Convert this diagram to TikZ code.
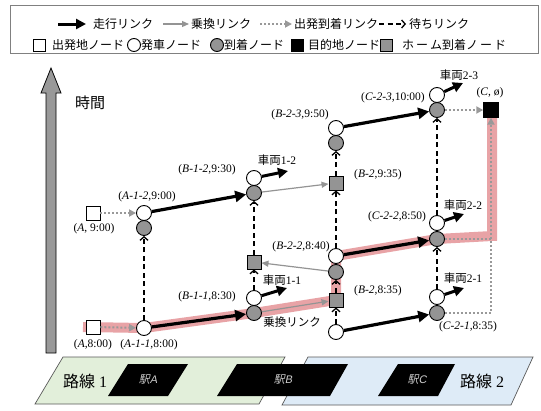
\documentclass[tikz,border=0pt]{standalone}
\usepackage{fontspec}
\setmainfont{Liberation Serif}
\newfontfamily\jp{Noto Sans CJK JP}
\newfontfamily\jpsl[FakeSlant=0.2]{Noto Sans CJK JP}
\newfontfamily\sfsl[FakeSlant=0.2]{Liberation Sans}
\usetikzlibrary{arrows.meta}
\definecolor{pinkc}{HTML}{E8A3A6}
\definecolor{greenc}{HTML}{E2EFDA}
\definecolor{bluec}{HTML}{DEEBF7}
\pgfdeclarelayer{bg}
\pgfsetlayers{bg,main}
\begin{document}
\begin{tikzpicture}[x=1pt,y=-1pt,
  lbl/.style={font=\fontsize{11.5}{13}\selectfont, inner sep=0pt},
  jl/.style={font=\jp\fontsize{12}{14}\selectfont, inner sep=0pt, anchor=west},
  dep/.style={circle,draw,line width=0.9pt,fill=white,minimum size=15pt,inner sep=0pt},
  arv/.style={circle,draw,line width=0.9pt,fill=black!42,minimum size=15pt,inner sep=0pt},
  plat/.style={rectangle,draw,line width=0.9pt,fill=black!42,minimum size=14pt,inner sep=0pt},
  orig/.style={rectangle,draw,line width=0.9pt,fill=white,minimum size=14pt,inner sep=0pt},
  dstsq/.style={rectangle,fill=black,draw,minimum size=15pt,inner sep=0pt},
  run/.style={line width=3.2pt,-{Triangle[length=11pt,width=11pt]}},
  vrun/.style={line width=3pt,-{Triangle[length=10pt,width=10pt]}},
  xfer/.style={draw=black!42,line width=1.2pt,-{Triangle[length=7pt,width=6pt]}},
  waitl/.style={line width=1.3pt,dash pattern=on 5pt off 3.5pt,-{Straight Barb[length=3.5pt,width=8pt]}},
  odl/.style={draw=black!40,line width=2pt,dash pattern=on 2pt off 2pt,-{Triangle[length=7pt,width=7pt]}},
  odn/.style={draw=black!40,line width=2pt,dash pattern=on 2pt off 2pt},
  hl/.style={draw=pinkc,line width=10pt,line join=miter},
  station/.style={fill=black},
  stlbl/.style={font=\jpsl\fontsize{11}{13}\selectfont, text=black!20, inner sep=0pt},
  route/.style={draw=black!65,line width=0.7pt}
]
\useasboundingbox (0,0) rectangle (541,410);

% ---------- legend ----------
\draw[draw=black!50,line width=0.8pt] (10,5) rectangle (538,53);
\coordinate (l1a) at (58,24); \coordinate (l1b) at (86,24);
\coordinate (l2a) at (163,24); \coordinate (l2b) at (189,24);
\coordinate (l3a) at (260,24); \coordinate (l3b) at (292,24);
\coordinate (l4a) at (379,24); \coordinate (l4b) at (406,24);
\draw[vrun] (l1a) -- (l1b);
\draw[xfer] (l2a) -- (l2b);
\draw[odl] (l3a) -- (l3b);
\draw[waitl] (l4a) -- (l4b);
\node[jl] (t1) at (93,24) {走行リンク};
\node[jl] (t2) at (191,24) {乗換リンク};
\node[jl] (t3) at (294,24) {出発到着リンク};
\node[jl] (t4) at (409,24) {待ちリンク};
\node[orig,minimum size=12pt] (g1) at (39,45) {};
\node[dep,minimum size=13pt] (g2) at (134,45) {};
\node[arv,minimum size=13pt] (g3) at (217,45) {};
\node[dstsq,minimum size=12pt] (g4) at (297,45) {};
\node[plat,minimum size=12pt] (g5) at (386,45) {};
\node[jl] (u1) at (52,45) {出発地ノード};
\node[jl] (u2) at (141,45) {発車ノード};
\node[jl] (u3) at (224,45) {到着ノード};
\node[jl] (u4) at (308,45) {目的地ノード};
\node[jl] (u5) at (402,45) {ホ\,ー\,ム到着ノ\,ー\,ド};

% ---------- time axis ----------
\draw[fill=black!40,line width=0.8pt] (46,353) -- (46,93) -- (41,93) -- (51,68) -- (61,93) -- (56,93) -- (56,353) -- cycle;
\node[font=\jp\fontsize{15}{17}\selectfont,inner sep=0pt] (time) at (90,103) {時間};

% ---------- nodes ----------
\node[orig] (oA8) at (93,327) {};
\node[orig] (oA9) at (93,213) {};
\node[dep] (a11) at (144,328) {};
\node[dep] (a12d) at (144,213) {};
\node[arv] (a12a) at (144,228) {};
\node[dep] (b11d) at (254,298) {};
\node[arv] (b11a) at (254,313) {};
\node[plat] (b1p) at (254,262) {};
\node[dep] (b12d) at (254,178) {};
\node[arv] (b12a) at (254,193) {};
\node[dep] (b21d) at (336,332) {};
\node[plat] (b2p1) at (336,300) {};
\node[arv] (b22a) at (336,272) {};
\node[dep] (b22d) at (336,256) {};
\node[plat] (b2p2) at (336,183) {};
\node[arv] (b23a) at (336,143) {};
\node[dep] (b23d) at (336,128) {};
\node[dep] (c21d) at (437,297) {};
\node[arv] (c21a) at (437,313) {};
\node[dep] (c22d) at (437,223) {};
\node[arv] (c22a) at (437,239) {};
\node[dep] (c23d) at (437,95) {};
\node[arv] (c23a) at (437,110) {};
\node[dstsq] (dest) at (491,110) {};

% ---------- highlight ----------
\begin{pgfonlayer}{bg}
\coordinate (h0) at (83,327);
\coordinate (h1) at (492,236);
\coordinate (h2) at (492,117);
\draw[hl] (h0) -- (a11.center) -- (b11a.center) -- (b2p1.center) -- (b22d.center) -- (c22a.center) -- (h1) -- (h2);
\end{pgfonlayer}

% ---------- wait links ----------
\draw[waitl] (a11) -- (a12a);
\draw[waitl] (b11d) -- (b1p);
\draw[waitl] (b1p) -- (b12a);
\draw[waitl] (b21d) -- (b2p1);
\draw[waitl] (b2p1) -- (b22a);
\draw[waitl] (b22d) -- (b2p2);
\draw[waitl] (b2p2) -- (b23a);
\draw[waitl] (c21d) -- (c22a);
\draw[waitl] (c22d) -- (c23a);

% ---------- origin/destination links ----------
\draw[odl] (oA8) -- (a11);
\draw[odl] (oA9) -- (a12d);
\draw[odl] (c23a) -- (dest);
\draw[odl] (c21a) -| (dest);
\draw[odn] (c22a) -- (c22a -| dest);

% ---------- transfer links ----------
\draw[xfer] (b11a) -- (b2p1);
\draw[xfer] (b12a) -- (b2p2);
\draw[xfer] (b22a) -- (b1p);

% ---------- running links ----------
\draw[run] (a11) -- (b11a);
\draw[run] (a12d) -- (b12a);
\draw[run] (b21d) -- (c21a);
\draw[run] (b22d) -- (c22a);
\draw[run] (b23d) -- (c23a);
\coordinate (v11) at (287,288);
\coordinate (v12) at (288,171);
\coordinate (v21) at (464,288);
\coordinate (v22) at (464,214);
\coordinate (v23) at (463,83);
\draw[vrun] (b11d) -- (v11);
\draw[vrun] (b12d) -- (v12);
\draw[vrun] (c21d) -- (v21);
\draw[vrun] (c22d) -- (v22);
\draw[vrun] (c23d) -- (v23);

% ---------- labels ----------
\node[lbl] (L1) at (94,229) {(\textit{A}, 9:00)};
\node[lbl] (L2) at (147,197) {(\textit{A-1-2},9:00)};
\node[lbl] (L3) at (207,170) {(\textit{B-1-2},9:30)};
\node[lbl] (L4) at (93,345) {(\textit{A},8:00)};
\node[lbl] (L5) at (149,345) {(\textit{A-1-1},8:00)};
\node[lbl] (L6) at (207,297) {(\textit{B-1-1},8:30)};
\node[lbl] (L7) at (300,115) {(\textit{B-2-3},9:50)};
\node[lbl] (L8) at (393,98) {(\textit{C-2-3},10:00)};
\node[lbl] (L9) at (490,93) {(\textit{C}, ø)};
\node[lbl] (L10) at (378,175) {(\textit{B-2},9:35)};
\node[lbl] (L11) at (397,217) {(\textit{C-2-2},8:50)};
\node[lbl] (L12) at (301,247) {(\textit{B-2-2},8:40)};
\node[lbl] (L13) at (378,291) {(\textit{B-2},8:35)};
\node[lbl] (L14) at (468,327) {(\textit{C-2-1},8:35)};
\node[lbl] (V1) at (282,280) {{\jp 車両}1-1};
\node[lbl] (V2) at (277,160) {{\jp 車両}1-2};
\node[lbl] (V3) at (463,278) {{\jp 車両}2-1};
\node[lbl] (V4) at (463,205) {{\jp 車両}2-2};
\node[lbl] (V5) at (459,75) {{\jp 車両}2-3};
\node[lbl,font=\jp\fontsize{11.5}{13}\selectfont] (X1) at (292,322) {乗換リンク};

% ---------- routes and stations ----------
\draw[route,fill=greenc] (35,404) -- (63,357) -- (285,357) -- (259,404) -- cycle;
\draw[route,fill=bluec] (282,405) -- (308,357) -- (533,357) -- (511,405) -- cycle;
\fill[station] (108,396) -- (128,364) -- (188,364) -- (168,396) -- cycle;
\fill[station] (217,396) -- (237,364) -- (348,364) -- (330,396) -- cycle;
\fill[station] (378,396) -- (398,364) -- (455,364) -- (438,396) -- cycle;
\node[stlbl] (sA) at (148,380) {駅{\sfsl A}};
\node[stlbl] (sB) at (283,380) {駅{\sfsl B}};
\node[stlbl] (sC) at (417,380) {駅{\sfsl C}};
\node[font=\fontsize{16}{18}\selectfont,inner sep=0pt] (r1) at (85,381) {{\jp 路線} 1};
\node[font=\fontsize{16}{18}\selectfont,inner sep=0pt] (r2) at (482,381) {{\jp 路線} 2};
\end{tikzpicture}
\end{document}
